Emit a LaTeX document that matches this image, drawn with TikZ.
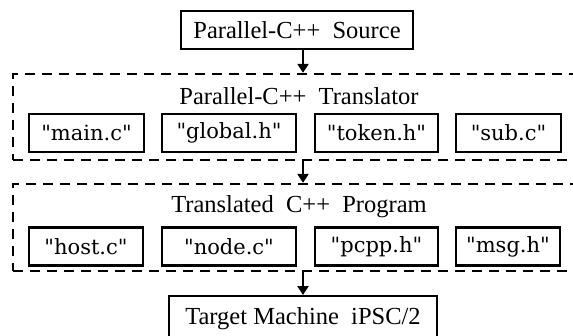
\documentclass[tikz,border=0pt]{standalone}
\usepackage{fontspec}
\setmainfont{Liberation Serif}
\newfontfamily\filefont{DejaVu Serif}
\usetikzlibrary{arrows.meta}

\begin{document}
\begin{tikzpicture}[x=1pt, y=-1pt,
                    box/.style={draw, line width=2.3pt, inner sep=0pt,
                                font=\fontsize{24.5}{28}\selectfont},
                    filebox/.style={draw, line width=2.2pt, inner sep=0pt,
                                    minimum height=38pt,
                                    font=\filefont\fontsize{21}{25}\selectfont},
                    group/.style={draw, line width=2.3pt, dash pattern=on 10pt off 7pt,
                                  minimum width=580pt, minimum height=86pt, inner sep=0pt},
                    title/.style={font=\fontsize{24.5}{28}\selectfont},
                    flow/.style={-{Triangle[length=9pt,width=11pt]}, line width=2.3pt}]
  \useasboundingbox (0,0) rectangle (573,335);
  \clip (0,0) rectangle (573,335);
  \node[box, minimum width=232pt, minimum height=38pt] (src) at (297,30) {Parallel-C++\ \ Source};
  % translator
  \node[group] (trans) at (303,117) {};
  \node[title] (transname) at (299,96) {Parallel-C++\ \ Translator};
  \node[filebox, minimum width=115pt] (mainc) at (86.5,133) {"main.c"};
  \node[filebox, minimum width=134pt] (globalh) at (229,133) {"global.h"};
  \node[filebox, minimum width=123pt] (tokenh) at (376.5,133) {"token.h"};
  \node[filebox, minimum width=105pt] (subc) at (508.5,133) {"sub.c"};
  % translated program
  \node[group, minimum height=87pt] (prog) at (303,227.5) {};
  \node[title] (progname) at (299,207) {Translated\ \ C++\ \ Program};
  \node[filebox, minimum width=114pt] (hostc) at (86,246.5) {"host.c"};
  \node[filebox, minimum width=134pt] (nodec) at (229,246.5) {"node.c"};
  \node[filebox, minimum width=123pt] (pcpph) at (376.5,246.5) {"pcpp.h"};
  \node[filebox, minimum width=104pt] (msgh) at (508,246.5) {"msg.h"};
  \node[box, anchor=north, minimum width=268pt, text height=28pt, text depth=22pt] (tgt) at (303,295) {Target Machine\ \ iPSC/2};
  \draw[flow] (src.south -| trans.north) -- (trans.north);
  \draw[flow] (trans.south) -- (prog.north);
  \draw[flow] (prog.south) -- (tgt.north);
\end{tikzpicture}
\end{document}
